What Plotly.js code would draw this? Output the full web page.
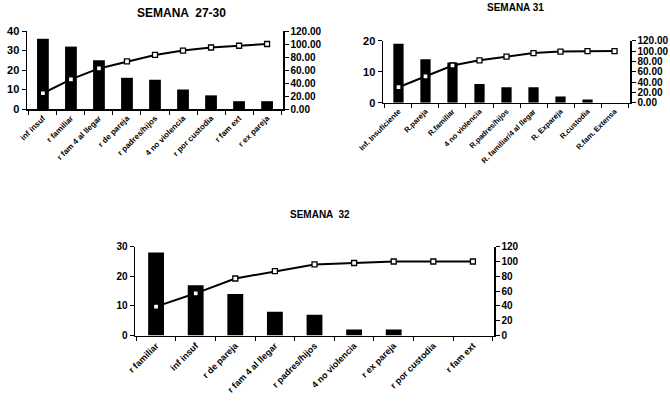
<!DOCTYPE html>
<html>
<head>
<meta charset="utf-8">
<script src="https://cdn.plot.ly/plotly-3.0.1.min.js"></script>
<style>
html,body{margin:0;padding:0;background:#fff;}
#chart{width:670px;height:409px;}
</style>
</head>
<body>
<div id="chart"></div>
<script>
// ---- Data ----
const titles = ["SEMANA  27-30", "SEMANA 31", "SEMANA  32"];

const cats1 = ["inf insuf", "r familiar", "r fam 4 al llegar", "r de pareja", "r padres/hijos", "4 no violencia", "r por custodia", "r fam ext", "r ex pareja"];
const counts1 = [36, 32, 25, 16, 15, 10, 7, 4, 4];
const cum1 = [24.2, 45.6, 62.4, 73.2, 83.2, 89.9, 94.6, 97.3, 100];

const cats2 = ["Inf. Insuficiente", "R.pareja", "R.familiar", "4 no violencia", "R.padres/hijos", "R. familiar/4 al llegar", "R. Expareja", "R.custodia", "R.fam. Extensa"];
const counts2 = [19, 14, 13, 6, 5, 5, 2, 1, 0];
const cum2 = [30, 51, 72, 82, 89, 96, 99, 100, 100];

const cats3 = ["r familiar", "inf insuf", "r de pareja", "r fam 4 al llegar", "r padres/hijos", "4 no violencia", "r ex pareja", "r por custodia", "r fam ext"];
const counts3 = [28, 17, 14, 8, 7, 2, 2, 0, 0];
const cum3 = [39, 57, 77, 87, 96, 98, 100, 100, 100];

// ---- Helpers ----
const W = 670, H = 409;
const px = v => v / W;
const py = v => 1 - v / H;
const FONT = "Liberation Sans, Arial, sans-serif";

function barTrace(x, y, xa, ya, w) {
  return {type: 'bar', x: x, y: y, xaxis: xa, yaxis: ya, width: w,
          marker: {color: '#000', line: {width: 0}}, showlegend: false, hoverinfo: 'skip'};
}
function lineTrace(x, y, xa, ya) {
  return {type: 'scatter', mode: 'lines+markers', x: x, y: y, xaxis: xa, yaxis: ya,
          line: {color: '#000', width: 2},
          marker: {symbol: 'square', size: 5, color: '#fff', line: {color: '#000', width: 1.3}},
          showlegend: false, hoverinfo: 'skip', cliponaxis: false};
}
function xAxis(dom, anchor, fs) {
  return {domain: dom, anchor: anchor, type: 'category', showgrid: false, zeroline: false,
          showline: true, linecolor: '#000', linewidth: 1.5, ticks: 'outside', tickson: 'boundaries',
          ticklen: 4, tickcolor: '#000', tickangle: -45, automargin: false,
          tickfont: {family: FONT, size: fs, color: '#000', weight: 'bold'}};
}
function yLeft(dom, anchor, range, dtick, fs) {
  return {domain: dom, anchor: anchor, range: range, dtick: dtick, showgrid: false, zeroline: false,
          showline: true, linecolor: '#000', linewidth: 1.5, ticks: 'outside', ticklen: 4,
          tickcolor: '#000', automargin: false,
          tickfont: {family: FONT, size: fs, color: '#000', weight: 'bold'}};
}
function yRight(over, anchor, fmt, fs) {
  return {overlaying: over, anchor: anchor, side: 'right', range: [0, 120], dtick: 20,
          tickformat: fmt, showgrid: false, zeroline: false, showline: true, linecolor: '#000',
          linewidth: 1.5, ticks: 'outside', ticklen: 4, tickcolor: '#000', automargin: false,
          tickfont: {family: FONT, size: fs, color: '#000', weight: 'bold'}};
}

const data = [
  barTrace(cats1, counts1, 'x', 'y', 0.42),
  lineTrace(cats1, cum1, 'x', 'y2'),
  barTrace(cats2, counts2, 'x2', 'y3', 0.38),
  lineTrace(cats2, cum2, 'x2', 'y4'),
  barTrace(cats3, counts3, 'x3', 'y5', 0.40),
  lineTrace(cats3, cum3, 'x3', 'y6')
];

const layout = {
  width: W, height: H,
  margin: {l: 0, r: 0, t: 0, b: 0},
  paper_bgcolor: '#fff', plot_bgcolor: 'rgba(0,0,0,0)',
  showlegend: false,
  xaxis: xAxis([px(27), px(283)], 'y', 8),
  yaxis: yLeft([py(109), py(31)], 'x', [0, 40], 10, 11),
  yaxis2: yRight('y', 'x', '.2f', 10),
  xaxis2: xAxis([px(383), px(630)], 'y3', 7.5),
  yaxis3: yLeft([py(102.7), py(40.7)], 'x2', [0, 20], 10, 11),
  yaxis4: yRight('y3', 'x2', '.2f', 10),
  xaxis3: xAxis([px(135), px(494)], 'y5', 9),
  yaxis5: yLeft([py(335.5), py(246.7)], 'x3', [0, 30], 10, 10),
  yaxis6: yRight('y5', 'x3', 'd', 10),
  annotations: [
    {text: titles[0], x: px(182), y: py(13), xref: 'paper', yref: 'paper', showarrow: false,
     xanchor: 'center', yanchor: 'middle',
     font: {family: FONT, size: 12, color: '#000', weight: 'bold'}},
    {text: titles[1], x: px(515), y: py(8), xref: 'paper', yref: 'paper', showarrow: false,
     xanchor: 'center', yanchor: 'middle',
     font: {family: FONT, size: 10, color: '#000', weight: 'bold'}},
    {text: titles[2], x: px(320), y: py(214), xref: 'paper', yref: 'paper', showarrow: false,
     xanchor: 'center', yanchor: 'middle',
     font: {family: FONT, size: 10, color: '#000', weight: 'bold'}}
  ]
};

Plotly.newPlot('chart', data, layout, {staticPlot: true, displayModeBar: false});
</script>
</body>
</html>
